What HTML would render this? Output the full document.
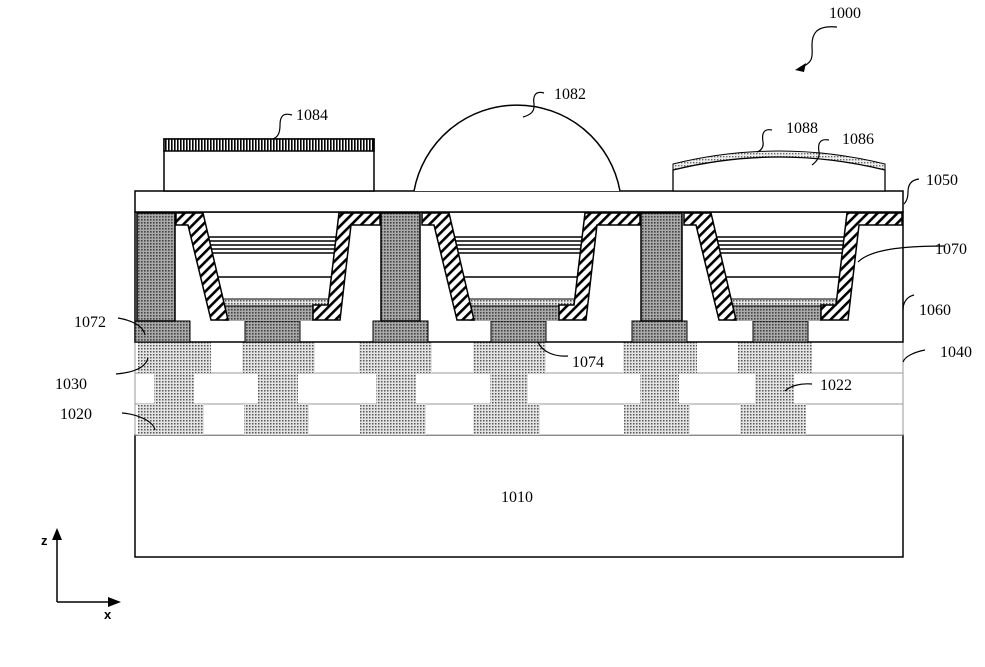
<!DOCTYPE html>
<html><head><style>body{margin:0;background:#fff}svg{display:block}text{font-family:"Liberation Serif",serif;font-size:16px;fill:#000}</style></head>
<body>
<svg width="985" height="667" viewBox="0 0 985 667" xmlns="http://www.w3.org/2000/svg">
<defs>
<pattern id="lt" width="3" height="3" patternUnits="userSpaceOnUse"><rect width="3" height="3" fill="#e4e4e4"/><rect x="0" y="0" width="1.5" height="1.5" fill="#555"/></pattern>
<pattern id="dk" width="3" height="3" patternUnits="userSpaceOnUse"><rect width="3" height="3" fill="#aaa"/><rect x="0" y="0" width="1.6" height="1.6" fill="#444"/></pattern>
<pattern id="ht" width="7" height="7" patternUnits="userSpaceOnUse" patternTransform="rotate(45)"><rect width="7" height="7" fill="#fff"/><rect x="0" y="0" width="2.6" height="7" fill="#000"/></pattern>
<pattern id="vl" width="3" height="10" patternUnits="userSpaceOnUse"><rect width="3" height="10" fill="#fff"/><rect width="1.6" height="10" fill="#000"/></pattern>
<pattern id="ct" width="3" height="3" patternUnits="userSpaceOnUse"><rect width="3" height="3" fill="#eee"/><rect width="1.4" height="1.4" fill="#666"/></pattern>
</defs>
<rect x="135" y="435" width="768" height="122" fill="#fff" stroke="#000" stroke-width="1.5"/>
<text x="501" y="502">1010</text>
<rect x="135" y="342" width="768" height="93" fill="#fff" stroke="#999" stroke-width="1"/>
<line x1="135" y1="373" x2="903" y2="373" stroke="#999"/>
<line x1="135" y1="404" x2="903" y2="404" stroke="#999"/>
<g fill="url(#lt)">
<rect x="138" y="404" width="66" height="31"/><rect x="244" y="404" width="65" height="31"/><rect x="360" y="404" width="66" height="31"/><rect x="473" y="404" width="67" height="31"/><rect x="624" y="404" width="66" height="31"/><rect x="740" y="404" width="66" height="31"/>
<rect x="154" y="373" width="40" height="31"/><rect x="258" y="373" width="40" height="31"/><rect x="376" y="373" width="40" height="31"/><rect x="490" y="373" width="38" height="31"/><rect x="640" y="373" width="39" height="31"/><rect x="755" y="373" width="39" height="31"/>
<rect x="138" y="342" width="73" height="31"/><rect x="242" y="342" width="73" height="31"/><rect x="359" y="342" width="73" height="31"/><rect x="473" y="342" width="73" height="31"/><rect x="623" y="342" width="74" height="31"/><rect x="738" y="342" width="74" height="31"/>
</g>
<rect x="135" y="212" width="768" height="130" fill="#fff" stroke="#000" stroke-width="1.5"/>
<g fill="url(#dk)" stroke="#000" stroke-width="1">
<rect x="135" y="321" width="55" height="21"/><rect x="373" y="321" width="55" height="21"/><rect x="632" y="321" width="55" height="21"/>
<rect x="137" y="213" width="38" height="108" stroke-width="1.5"/><rect x="381" y="213" width="39" height="108" stroke-width="1.5"/><rect x="641" y="213" width="41" height="108" stroke-width="1.5"/>
</g>
<g id="cav">
<rect x="245" y="321" width="55" height="21" fill="url(#dk)" stroke="#000"/>
<rect x="223" y="306" width="90" height="15" fill="url(#dk)"/>
<rect x="212" y="299" width="120" height="7" fill="url(#lt)" stroke="#000"/>
<g stroke="#000" stroke-width="1.5">
<line x1="200" y1="237" x2="340" y2="237"/><line x1="200" y1="241" x2="340" y2="241"/><line x1="200" y1="245" x2="340" y2="245"/><line x1="200" y1="249" x2="340" y2="249"/><line x1="200" y1="253" x2="340" y2="253"/><line x1="200" y1="277" x2="340" y2="277"/>
</g>
<polygon points="176,213 203,213 228,320 211,320 188,225 176,225" fill="url(#ht)" stroke="#000" stroke-width="1.5"/>
</g>
<use href="#cav" x="246"/>
<use href="#cav" x="508"/>
<g fill="url(#ht)" stroke="#000" stroke-width="1.5">
<polygon points="313,305 328,305 339,213 380,213 380,225 351,225 340,320 313,320"/>
<polygon points="559,305 574,305 585,213 640,213 640,225 597,225 586,320 559,320"/>
<polygon points="821,305 836,305 847,213 902,213 902,225 859,225 848,320 821,320"/>
</g>
<rect x="135" y="191" width="768" height="21" fill="#fff" stroke="#000" stroke-width="1.5"/>
<rect x="164" y="139" width="210" height="52" fill="#fff" stroke="#000" stroke-width="1.5"/>
<rect x="164" y="139" width="210" height="12" fill="url(#vl)" stroke="#000" stroke-width="1.5"/>
<path d="M414,191 A104.7,104.7 0 0 1 620,191" fill="#fff" stroke="#000" stroke-width="1.5"/>
<path d="M673,191 L673,164 Q779,138 885,164 L885,191" fill="url(#ct)" stroke="#000" stroke-width="1"/>
<path d="M673,191 L673,170 Q779,144 885,170 L885,191 Z" fill="#fff" stroke="#000" stroke-width="1.3"/>
<g fill="none" stroke="#000" stroke-width="1.2">
<path d="M837,27 C815,25 812,35 812,45 C812,55 815,62 800,68"/>
<path d="M292,115 C282,112 280,118 280,125 C280,133 278,137 273,139"/>
<path d="M544,93 C534,90 533,98 534,104 C535,112 530,115 523,117"/>
<path d="M772,130 C762,128 762,136 763,142 C764,148 760,151 757,152"/>
<path d="M829,140 C818,138 818,146 819,152 C820,158 816,162 812,165"/>
<path d="M919,179 C910,180 908,186 908,192 C908,198 906,202 904,204"/>
<path d="M944,246 C900,246 870,250 858,262"/>
<path d="M914,295 C905,297 903,305 903,310"/>
<path d="M925,350 C915,352 905,356 903,362"/>
<path d="M118,318 C130,320 143,325 145,335"/>
<path d="M116,374 C128,373 145,370 148,358"/>
<path d="M122,413 C135,414 153,420 155,430"/>
<path d="M568,356 C555,357 542,352 538,342"/>
<path d="M812,384 C800,383 790,386 785,391"/>
</g>
<polygon points="795,70 806,63 804,72" fill="#000"/>
<text x="829" y="18">1000</text>
<text x="296" y="120">1084</text>
<text x="554" y="99">1082</text>
<text x="786" y="133">1088</text>
<text x="842" y="144">1086</text>
<text x="926" y="185">1050</text>
<text x="935" y="254">1070</text>
<text x="919" y="315">1060</text>
<text x="940" y="357">1040</text>
<text x="74" y="327">1072</text>
<text x="55" y="389">1030</text>
<text x="60" y="419">1020</text>
<text x="572" y="367">1074</text>
<text x="820" y="390">1022</text>
<line x1="57" y1="602" x2="57" y2="536" stroke="#000" stroke-width="1.5"/>
<polygon points="52,540 57,528 62,540" fill="#000"/>
<line x1="57" y1="602" x2="112" y2="602" stroke="#000" stroke-width="1.5"/>
<polygon points="108,597 121,602 108,607" fill="#000"/>
<text x="41" y="545" style="font-family:'Liberation Sans',sans-serif;font-weight:bold;font-size:13px">z</text>
<text x="104" y="619" style="font-family:'Liberation Sans',sans-serif;font-weight:bold;font-size:13px">x</text>
</svg>
</body></html>
